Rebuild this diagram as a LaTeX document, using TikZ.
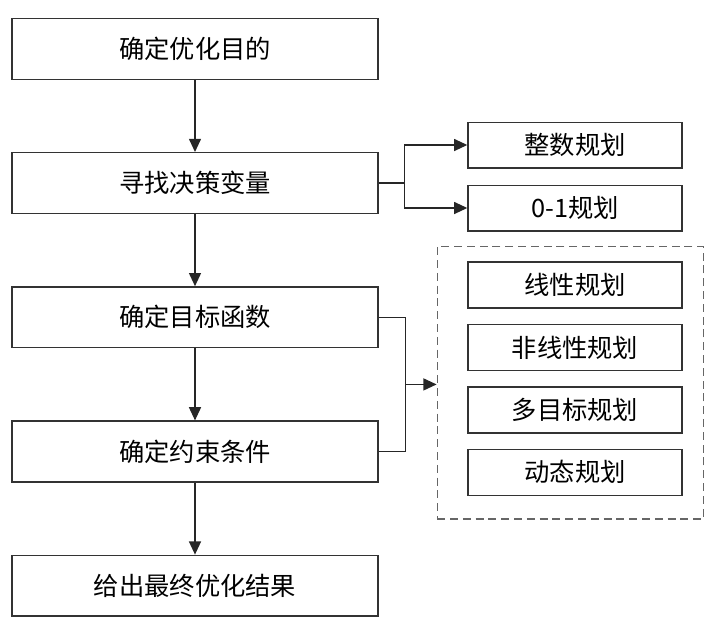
\documentclass[tikz,border=0pt]{standalone}
\usepackage{fontspec}
\setmainfont{Noto Sans CJK SC}
\usetikzlibrary{
	arrows.meta,
	positioning,
	fit,
	calc
}

\begin{document}
\begin{tikzpicture}[
			font=\fontsize{18pt}{21pt}\selectfont,
			etapa/.style={draw=black!80, line width=1pt, minimum width=9.15cm, minimum height=1.52cm, inner sep=0pt},
			tipo/.style={draw=black!80, line width=1pt, minimum width=5.35cm, minimum height=1.14cm, inner sep=0pt},
			grupo/.style={draw=black!60, line width=1pt, dash pattern=on 0.2cm off 0.12cm, inner sep=0pt},
			ln/.style={line width=1pt, draw=black!85},
			fl/.style={ln, -{Triangle[length=0.33cm,width=0.3cm]}}
		]

		\useasboundingbox (0,0) rectangle (18.175,-15.55);

		% etapas
		\node[etapa] (obj) at (4.875,-1.2225) {确定优化目的};
		\node[etapa, below=1.8cm of obj] (var) {寻找决策变量};
		\node[etapa, below=1.8cm of var] (fun) {确定目标函数};
		\node[etapa, below=1.8cm of fun] (res) {确定约束条件};
		\node[etapa, below=1.8cm of res] (fim) {给出最终优化结果};

		% tipos de variavel
		\node[tipo] (int) at (14.375,-3.625) {整数规划};
		\node[tipo, below=0.4cm of int] (bin) {0-1规划};

		% tipos de problema
		\node[tipo, minimum height=1.15cm] (lin) at (14.375,-7.125) {线性规划};
		\node[tipo, minimum height=1.15cm, below=0.375cm of lin] (nlin) {非线性规划};
		\node[tipo, minimum height=1.15cm, below=0.375cm of nlin] (mobj) {多目标规划};
		\node[tipo, minimum height=1.15cm, below=0.375cm of mobj] (din) {动态规划};

		\coordinate (g1) at ($(lin.north west)+(-0.75,0.375)$);
		\coordinate (g2) at ($(din.south east)+(0.525,-0.575)$);
		\node[grupo, fit=(g1)(g2)] (grp) {};

		\draw[fl] (obj) -- (var);
		\draw[fl] (var) -- (fun);
		\draw[fl] (fun) -- (res);
		\draw[fl] (res) -- (fim);

		\coordinate (j1) at ($(var.east)+(0.65,0)$);
		\draw[ln] (var.east) -- (j1);
		\draw[fl] (j1) |- (int.west);
		\draw[fl] (j1) |- (bin.west);

		\coordinate (j2) at ($($(fun.east)!0.5!(res.east)$)+(0.675,0)$);
		\draw[ln] (fun.east) -| (j2) |- (res.east);
		\draw[fl] (j2) -- (j2 -| grp.west);
	\end{tikzpicture}
\end{document}
